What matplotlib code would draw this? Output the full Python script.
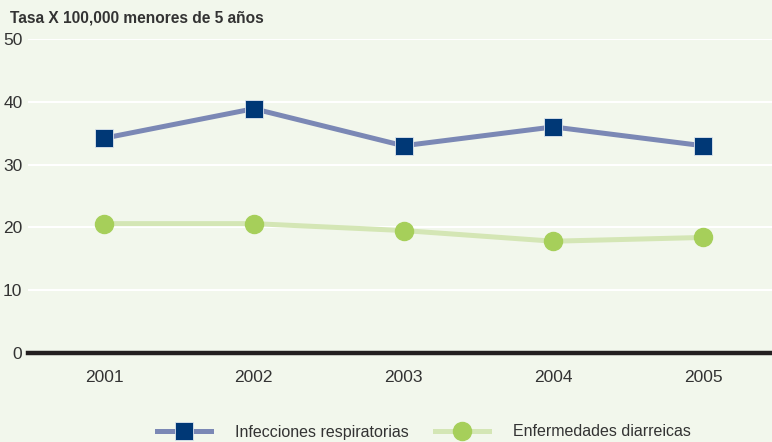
import matplotlib.pyplot as plt
from matplotlib import font_manager

years = [2001, 2002, 2003, 2004, 2005]
infecciones = [34.2, 38.9, 33.0, 36.0, 33.0]
diarreicas = [20.6, 20.6, 19.5, 17.8, 18.4]
yticks = [0, 10, 20, 30, 40, 50]

names = {f.name for f in font_manager.fontManager.ttflist}
family = "Liberation Sans Narrow" if "Liberation Sans Narrow" in names else "Liberation Sans"
plt.rcParams["font.family"] = [family, "DejaVu Sans"]

bg = "#f2f7ec"
fig = plt.figure(figsize=(7.72, 4.42), dpi=100, facecolor=bg)
ax = fig.add_axes([28 / 772, 89 / 442, 744 / 772, 314 / 442], facecolor=bg)

for y in yticks[1:]:
    ax.axhline(y, color="white", lw=1.5, zorder=1)
ax.axhline(0, color="#231f20", lw=3.2, zorder=2, clip_on=False)

ax.plot(years, infecciones, color="#7b88b5", lw=3.6, marker="s", ms=12.5,
        mfc="#003876", mec="#dfe6ef", mew=0.6, zorder=3, label="Infecciones respiratorias")
ax.plot(years, diarreicas, color="#d4e6b5", lw=3.6, marker="o", ms=13,
        mfc="#a6cf5a", mec="#a6cf5a", zorder=3, label="Enfermedades diarreicas")

ax.set_xlim(2000.493, 2005.46)
ax.set_ylim(0, 50)
ax.set_xticks(years)
ax.set_xticklabels([str(y) for y in years], fontsize=12.5, color="#333333")
ax.set_yticks(yticks)
ax.set_yticklabels([str(y) for y in yticks], fontsize=12.5, color="#333333")
ax.tick_params(length=0, pad=4)
ax.tick_params(axis="x", pad=12)
for s in ax.spines.values():
    s.set_visible(False)

fig.text(10 / 772, 1 - 18 / 442, "Tasa X 100,000 menores de 5 años", fontsize=11.2,
         fontweight="bold", color="#333333", va="center", ha="left")

fig.legend(loc="center", bbox_to_anchor=(424 / 772, 1 - 432 / 442), ncol=2, frameon=False,
           fontsize=11.5, handlelength=3.4, columnspacing=1.6, handletextpad=1.5,
           labelcolor="#333333")

fig.savefig("out.png", dpi=100, facecolor=bg)
